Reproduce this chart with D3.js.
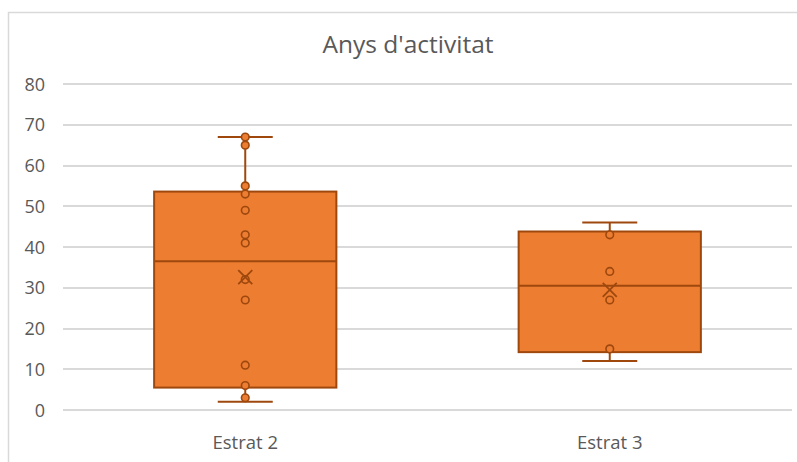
<!DOCTYPE html>
<html>
<head>
<meta charset="utf-8">
<script src="https://cdn.jsdelivr.net/npm/d3@7"></script>
<style>
  body { margin: 0; background: #fff; }
  text { font-family: "Open Sans", "Liberation Sans", sans-serif; fill: #595959; }
</style>
</head>
<body>
<div id="chart"></div>
<script>
const categories = ["Estrat 2", "Estrat 3"];
const mins = [2, 12];
const q1s = [5.5, 14.2];
const medians = [36.5, 30.5];
const q3s = [53.6, 43.8];
const maxs = [67, 46];
const means = [32.6, 29.5];
const innerPoints = [
  [67, 65, 55, 53, 49, 43, 41, 32, 27, 11, 6, 3],
  [43, 34, 27, 15]
];
const yTicks = [0, 10, 20, 30, 40, 50, 60, 70, 80];

const width = 797, height = 462;
const fillColor = "#ED7D31", lineColor = "#9E480E";

const svg = d3.select("#chart").append("svg")
  .attr("width", width)
  .attr("height", height);

// chart frame (cut off at right/bottom like the reference)
svg.append("rect")
  .attr("x", 8.5).attr("y", 12.5)
  .attr("width", 800).attr("height", 470)
  .attr("fill", "none")
  .attr("stroke", "#d9d9d9")
  .attr("stroke-width", 1.5);

const x = d3.scaleBand()
  .domain(categories)
  .range([63, 792]);

const y = d3.scaleLinear()
  .domain([0, 80])
  .range([410, 84]);

// gridlines
svg.append("g")
  .selectAll("line")
  .data(yTicks)
  .enter().append("line")
  .attr("x1", 63).attr("x2", 792)
  .attr("y1", d => Math.round(y(d)))
  .attr("y2", d => Math.round(y(d)))
  .attr("stroke", "#d9d9d9")
  .attr("stroke-width", 2);

// y labels
svg.append("g")
  .selectAll("text")
  .data(yTicks)
  .enter().append("text")
  .attr("x", 45)
  .attr("y", d => y(d) + 6.5)
  .attr("text-anchor", "end")
  .style("font-size", "18px")
  .text(d => d);

// x labels
svg.append("g")
  .selectAll("text")
  .data(categories)
  .enter().append("text")
  .attr("x", d => x(d) + x.bandwidth() / 2)
  .attr("y", 449)
  .attr("text-anchor", "middle")
  .style("font-size", "18.5px")
  .text(d => d);

// title
svg.append("text")
  .attr("x", 408)
  .attr("y", 53)
  .attr("text-anchor", "middle")
  .style("font-size", "24.5px")
  .text("Anys d'activitat");

const boxW = x.bandwidth() * 0.5;
const capW = 55;

categories.forEach(function(cat, i){
  const cx = x(cat) + x.bandwidth() / 2;
  const g = svg.append("g");

  // whiskers
  g.append("line")
    .attr("x1", cx).attr("x2", cx)
    .attr("y1", y(maxs[i])).attr("y2", y(q3s[i]))
    .attr("stroke", lineColor).attr("stroke-width", 2);
  g.append("line")
    .attr("x1", cx).attr("x2", cx)
    .attr("y1", y(q1s[i])).attr("y2", y(mins[i]))
    .attr("stroke", lineColor).attr("stroke-width", 2);
  [mins[i], maxs[i]].forEach(function(v){
    g.append("line")
      .attr("x1", cx - capW / 2).attr("x2", cx + capW / 2)
      .attr("y1", y(v)).attr("y2", y(v))
      .attr("stroke", lineColor).attr("stroke-width", 2);
  });

  // box
  g.append("rect")
    .attr("x", cx - boxW / 2)
    .attr("y", y(q3s[i]))
    .attr("width", boxW)
    .attr("height", y(q1s[i]) - y(q3s[i]))
    .attr("fill", fillColor)
    .attr("stroke", lineColor)
    .attr("stroke-width", 2);

  g.append("line")
    .attr("x1", cx - boxW / 2).attr("x2", cx + boxW / 2)
    .attr("y1", y(medians[i])).attr("y2", y(medians[i]))
    .attr("stroke", lineColor).attr("stroke-width", 2);

  // inner points
  g.selectAll("circle")
    .data(innerPoints[i])
    .enter().append("circle")
    .attr("cx", cx)
    .attr("cy", d => y(d))
    .attr("r", 3.8)
    .attr("fill", fillColor)
    .attr("stroke", lineColor)
    .attr("stroke-width", 1.6);

  // mean marker
  const my = y(means[i]), s = 7;
  g.append("path")
    .attr("d", `M${cx - s},${my - s}L${cx + s},${my + s}M${cx - s},${my + s}L${cx + s},${my - s}`)
    .attr("stroke", lineColor)
    .attr("stroke-width", 1.8)
    .attr("fill", "none");
});
</script>
</body>
</html>
